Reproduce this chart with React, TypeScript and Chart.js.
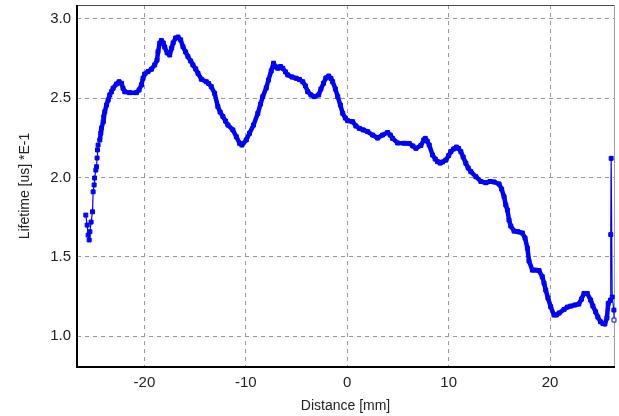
import { useEffect, useRef } from 'react';
import { Chart, registerables } from 'chart.js';

Chart.register(...registerables);

// Scan position along the sample, in mm
const distanceMm = [
  -25.78, -25.65, -25.55, -25.45, -25.38, -25.26, -25.12, -25.06, -24.96, -24.92,
  -24.79, -24.72, -24.67, -24.63, -24.57, -24.40, -24.30, -24.23, -24.07, -24.01,
  -23.91, -23.74, -23.58, -23.42, -23.25, -23.09, -22.76, -22.50, -22.26, -22.11,
  -21.94, -21.45, -20.79, -20.53, -20.30, -20.14, -19.97, -19.65, -19.31, -18.99,
  -18.76, -18.66, -18.49, -18.33, -18.15, -18.00, -17.76, -17.51, -17.31, -17.17,
  -16.92, -16.69, -16.43, -16.20, -15.94, -15.71, -15.44, -15.22, -14.95, -14.72,
  -14.39, -13.90, -13.67, -13.41, -13.08, -12.76, -12.54, -12.26, -12.00, -11.77,
  -11.28, -10.94, -10.62, -10.39, -9.96, -9.64, -9.24, -8.82, -8.55, -8.33,
  -7.99, -7.77, -7.50, -7.27, -7.03, -6.85, -6.58, -6.36, -6.09, -5.87,
  -5.45, -5.04, -4.71, -4.39, -4.12, -3.90, -3.58, -3.24, -2.82, -2.60,
  -2.35, -2.11, -1.83, -1.61, -1.44, -1.17, -0.94, -0.68, -0.45, -0.19,
  0.04, 0.53, 0.85, 1.19, 1.58, 2.01, 2.50, 2.99, 3.48, 3.98,
  4.24, 4.47, 4.96, 5.62, 6.11, 6.46, 6.77, 7.26, 7.54, 7.69,
  7.88, 8.08, 8.41, 8.67, 8.90, 9.16, 9.39, 9.72, 10.00, 10.22,
  10.49, 10.77, 10.98, 11.20, 11.43, 11.69, 11.92, 12.18, 12.68, 13.17,
  13.66, 14.08, 14.48, 14.97, 15.22, 15.46, 15.63, 15.79, 15.95, 16.12,
  16.45, 16.84, 17.26, 17.53, 17.76, 17.92, 18.25, 18.56, 18.91, 19.23,
  19.40, 19.57, 19.79, 20.06, 20.38, 20.63, 20.88, 21.37, 21.71, 22.03,
  22.45, 22.84, 23.09, 23.34, 23.66, 24.00, 24.22, 24.49, 24.71, 24.98,
  25.21, 25.40, 25.60, 25.73, 25.96, 25.98, 26.02, 26.12, 26.29, 26.30,
];

// Measured lifetime, in us * 1E-1
const lifetime = [
  1.763, 1.700, 1.637, 1.606, 1.658, 1.719, 1.784, 1.910, 1.953, 1.997,
  2.047, 2.068, 2.123, 2.174, 2.205, 2.237, 2.281, 2.312, 2.352, 2.384,
  2.415, 2.457, 2.489, 2.521, 2.541, 2.563, 2.590, 2.604, 2.594, 2.563,
  2.541, 2.535, 2.535, 2.552, 2.584, 2.626, 2.653, 2.668, 2.683, 2.710,
  2.741, 2.794, 2.847, 2.864, 2.849, 2.823, 2.786, 2.773, 2.817, 2.849,
  2.880, 2.886, 2.868, 2.825, 2.792, 2.762, 2.735, 2.710, 2.685, 2.657,
  2.620, 2.604, 2.593, 2.573, 2.531, 2.447, 2.413, 2.384, 2.356, 2.331,
  2.300, 2.257, 2.216, 2.205, 2.237, 2.279, 2.331, 2.405, 2.464, 2.510,
  2.565, 2.615, 2.672, 2.721, 2.697, 2.689, 2.700, 2.689, 2.666, 2.647,
  2.634, 2.626, 2.618, 2.604, 2.577, 2.541, 2.521, 2.510, 2.521, 2.558,
  2.594, 2.628, 2.640, 2.625, 2.604, 2.558, 2.510, 2.457, 2.405, 2.375,
  2.358, 2.352, 2.325, 2.310, 2.300, 2.289, 2.268, 2.249, 2.268, 2.284,
  2.268, 2.247, 2.218, 2.216, 2.215, 2.199, 2.184, 2.202, 2.237, 2.247,
  2.230, 2.205, 2.142, 2.117, 2.100, 2.091, 2.098, 2.110, 2.139, 2.163,
  2.180, 2.192, 2.183, 2.163, 2.129, 2.090, 2.060, 2.037, 2.005, 1.975,
  1.967, 1.975, 1.972, 1.959, 1.927, 1.879, 1.827, 1.795, 1.732, 1.694,
  1.662, 1.658, 1.650, 1.618, 1.555, 1.473, 1.416, 1.416, 1.413, 1.374,
  1.334, 1.290, 1.240, 1.185, 1.133, 1.133, 1.145, 1.168, 1.183, 1.189,
  1.196, 1.202, 1.233, 1.269, 1.269, 1.227, 1.189, 1.153, 1.120, 1.090,
  1.079, 1.076, 1.114, 1.206, 1.227, 1.640, 2.121, 1.246, 1.164, 1.101,
];

const xTickValues = [-20, -10, 0, 10, 20];
const yTickValues = [1.0, 1.5, 2.0, 2.5, 3.0];

const X_MIN = -26.65;
const X_MAX = 26.3;
const Y_MIN = 0.805;
const Y_MAX = 3.088;

const BLUE = '#0000ff';
const FONT = 'Liberation Sans, Arial, sans-serif';

// Plot frame: dark left/bottom axes, lighter top/right edges
const framePlugin = {
  id: 'plotFrame',
  beforeDatasetsDraw(chart: any) {
    const { ctx, chartArea } = chart;
    const { left, right, top, bottom } = chartArea;
    ctx.save();
    ctx.lineWidth = 1;
    ctx.strokeStyle = '#4a4a4a';
    ctx.beginPath();
    ctx.moveTo(left, top + 0.5);
    ctx.lineTo(right, top + 0.5);
    ctx.stroke();
    ctx.strokeStyle = '#a0a0a0';
    ctx.beginPath();
    ctx.moveTo(right + 0.5, top);
    ctx.lineTo(right + 0.5, bottom);
    ctx.stroke();
    ctx.lineWidth = 2;
    ctx.strokeStyle = '#000000';
    ctx.beginPath();
    ctx.moveTo(left, top);
    ctx.lineTo(left, bottom);
    ctx.lineTo(right + 1, bottom);
    ctx.stroke();
    ctx.restore();
  },
};

export default function App() {
  const canvasRef = useRef<HTMLCanvasElement | null>(null);

  useEffect(() => {
    const canvas = canvasRef.current;
    if (!canvas) return;
    const points = distanceMm.map((x, i) => ({ x, y: lifetime[i] }));
    const lastIndex = points.length - 1;

    const chart = new Chart(canvas, {
      type: 'scatter',
      data: {
        datasets: [
          {
            data: points,
            showLine: true,
            borderColor: BLUE,
            backgroundColor: BLUE,
            borderWidth: 4.5,
            borderJoinStyle: 'round',
            borderCapStyle: 'round',
            pointStyle: 'rect',
            pointRadius: 2.8,
            pointBorderWidth: 1,
            pointBorderColor: BLUE,
            pointBackgroundColor: (c: any) => (c.dataIndex === lastIndex ? '#ffffff' : BLUE),
            clip: 6,
            segment: {
              borderWidth: (c: any) => {
                const x0 = distanceMm[c.p0DataIndex];
                const sparse =
                  x0 < -24.5 || x0 > 26.0 || Math.abs(c.p1.y - c.p0.y) > 30;
                return sparse ? 1.2 : 4.5;
              },
            },
          } as any,
        ],
      },
      options: {
        animation: false,
        responsive: false,
        devicePixelRatio: 1,
        layout: { padding: { top: 5, right: 4, left: 0, bottom: 0 } },
        plugins: {
          legend: { display: false },
          tooltip: { enabled: false },
        },
        scales: {
          x: {
            type: 'linear',
            min: X_MIN,
            max: X_MAX,
            afterBuildTicks: (s: any) => {
              s.ticks = xTickValues.map((value) => ({ value }));
            },
            afterFit: (s: any) => {
              s.height = 49;
              s.paddingLeft = 0;
              s.paddingRight = 0;
            },
            grid: { color: '#999999', lineWidth: 1, drawTicks: false },
            border: { display: false, dash: [4, 4] },
            ticks: {
              color: '#222222',
              padding: 6.5,
              font: { family: FONT, size: 15 },
              callback: (v: any) => String(v),
            },
            title: {
              display: true,
              text: 'Distance [mm]',
              color: '#222222',
              font: { family: FONT, size: 14, lineHeight: 1 },
              padding: { top: 0, bottom: 2.5 },
            },
          },
          y: {
            type: 'linear',
            min: Y_MIN,
            max: Y_MAX,
            afterBuildTicks: (s: any) => {
              s.ticks = yTickValues.map((value) => ({ value }));
            },
            afterFit: (s: any) => {
              s.width = 77;
              s.paddingTop = 0;
              s.paddingBottom = 0;
            },
            grid: { color: '#999999', lineWidth: 1, drawTicks: false },
            border: { display: false, dash: [4, 4] },
            ticks: {
              color: '#222222',
              padding: 6,
              font: { family: FONT, size: 15 },
              callback: (v: any) => Number(v).toFixed(1),
            },
            title: {
              display: true,
              text: 'Lifetime [us] *E-1',
              color: '#222222',
              font: { family: FONT, size: 14, lineHeight: 1 },
              padding: { top: 18, bottom: 0 },
            },
          },
        },
      } as any,
      plugins: [framePlugin],
    });

    return () => chart.destroy();
  }, []);

  return (
    <div
      style={{
        position: 'fixed',
        left: 0,
        top: 0,
        width: 619,
        height: 416,
        background: '#ffffff',
      }}
    >
      <canvas ref={canvasRef} width={619} height={416} />
    </div>
  );
}
